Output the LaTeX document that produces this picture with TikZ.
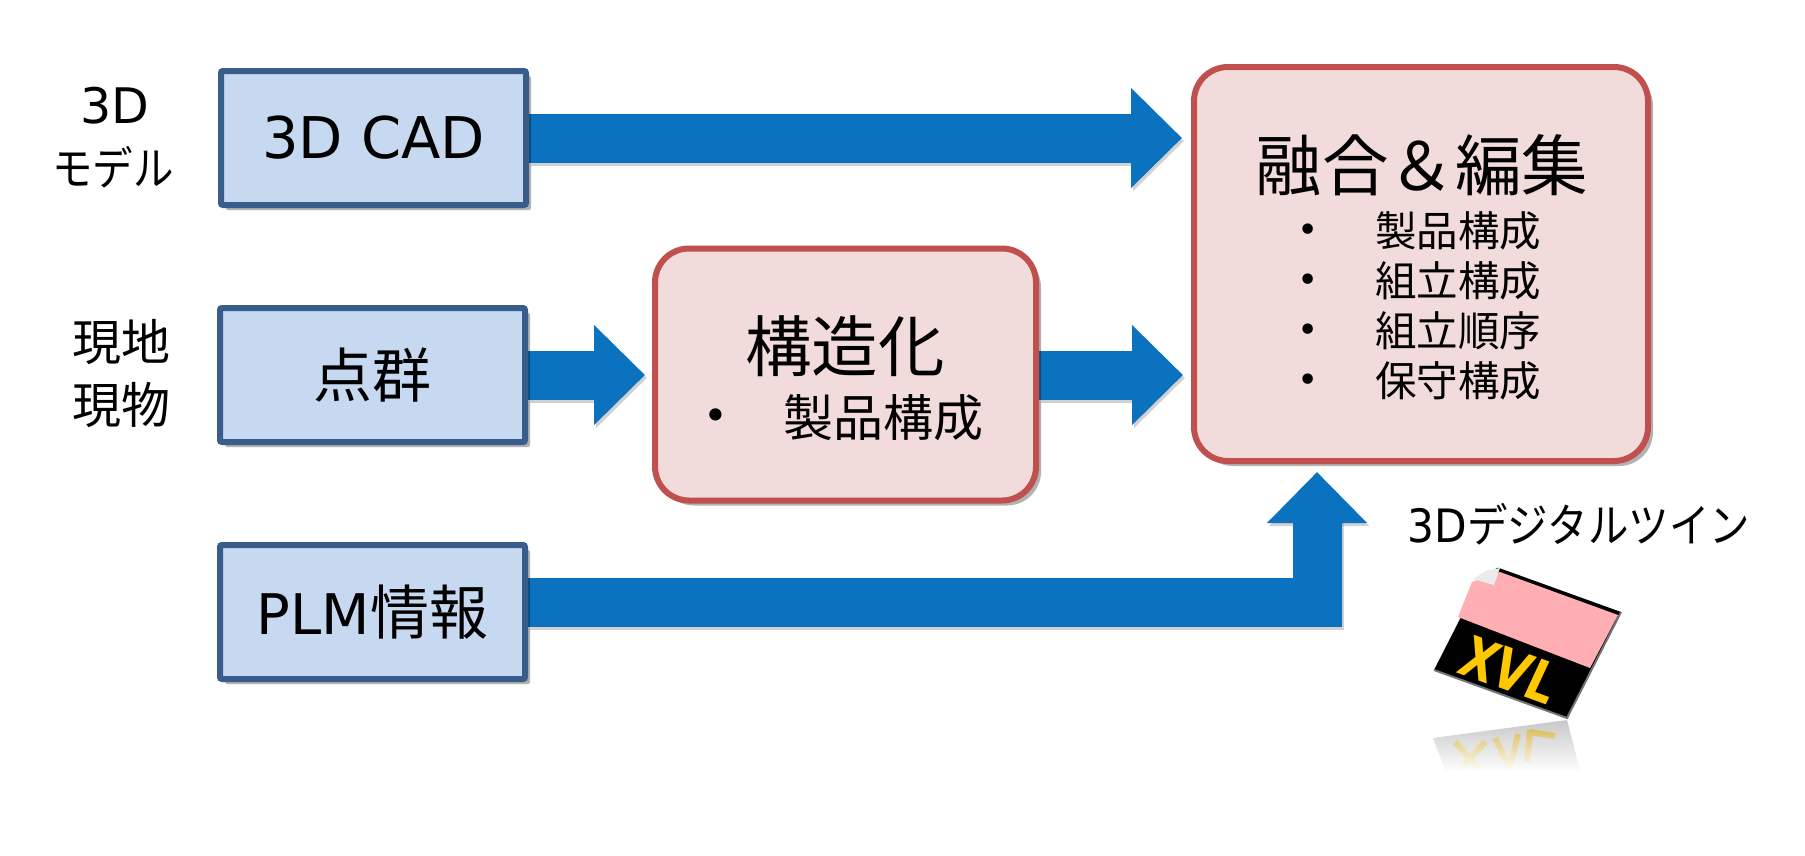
\documentclass[tikz,border=0pt]{standalone}
\usepackage{fontspec}
\setmainfont{DejaVu Sans}
\newfontfamily\cjk{Noto Sans CJK JP}
\newfontfamily\cjkn[FakeStretch=0.88]{Noto Sans CJK JP}
\newfontfamily\latn[FakeStretch=0.92]{DejaVu Sans}
\usetikzlibrary{shadows,arrows.meta,backgrounds,fadings}
\definecolor{boxfill}{HTML}{C6D9F1}
\definecolor{boxline}{HTML}{385D8A}
\definecolor{redfill}{HTML}{F2DCDB}
\definecolor{redline}{HTML}{C0504D}
\definecolor{flow}{HTML}{0A72BF}
\definecolor{iconpink}{HTML}{FFAEB4}
\definecolor{iconyellow}{HTML}{FFC800}
\newcommand{\fs}[1]{\fontsize{#1}{#1}\selectfont}
\tikzset{
  srcbox/.style={draw=boxline,fill=boxfill,line width=6pt,rounded corners=2pt,minimum width=305pt,minimum height=134pt,inner sep=0pt,
    drop shadow={shadow xshift=5pt,shadow yshift=-5pt,opacity=.3,fill=black}},
  procbox/.style={draw=redline,fill=redfill,line width=6pt,rounded corners=34pt,inner sep=0pt,
    drop shadow={shadow xshift=5pt,shadow yshift=-5pt,opacity=.3,fill=black}},
  txt/.style={inner sep=0pt,text=black},
  flowline/.style={draw=flow,line width=49pt,-{Triangle[length=51pt,width=97pt]}},
  flowshadow/.style={draw=black!45,opacity=.4,line width=49pt,-{Triangle[length=51pt,width=97pt]},transform canvas={shift={(2pt,-3pt)}}}
}
\begin{document}
\begin{tikzpicture}[x=1pt,y=1pt]
\useasboundingbox (0,0) rectangle (1805,-855);
% source boxes
\node[srcbox] (cad) at (373.5,-138) {\raisebox{-2.5pt}{\fs{57.5}3D CAD}};
\node[srcbox] (pts) at (372.5,-375) {\raisebox{-1pt}{\fs{59}\cjk 点群}};
\node[srcbox] (plm) at (372.5,-612) {\raisebox{-2.5pt}{\fs{56}PLM\fs{59}\cjk 情報}};
% process boxes
\node[procbox,minimum width=381pt,minimum height=252pt] (struct) at (845.5,-374.5) {};
\node[procbox,minimum width=454pt,minimum height=394pt] (merge) at (1421,-264) {};
% side labels
\node[txt] (l3d) at (115,-106) {\fs{49}3D};
\node[txt] (lmodel) at (113,-167) {\fs{46}\cjkn モデル};
\node[txt] (lsite1) at (121,-342) {\fs{49}\cjk 現地};
\node[txt] (lsite2) at (121,-405) {\fs{49}\cjk 現物};
% structure text
\node[txt] (stitle) at (845,-346) {\fs{66.5}\cjk 構造化};
\node[txt] (sdot) at (716,-420) {\fs{42}•};
\node[txt] (sitem) at (883,-418) {\fs{50}\cjk 製品構成};
% merge text
\node[txt] (mtitle) at (1422,-165) {\fs{66.5}\cjk 融合＆編集};
\node[txt] (md1) at (1308,-233) {\fs{36}•};
\node[txt] (md2) at (1308,-283) {\fs{36}•};
\node[txt] (md3) at (1308,-333) {\fs{36}•};
\node[txt] (md4) at (1308,-383) {\fs{36}•};
\node[txt] (mi1) at (1458,-231) {\fs{41.5}\cjk 製品構成};
\node[txt] (mi2) at (1458,-281) {\fs{41.5}\cjk 組立構成};
\node[txt] (mi3) at (1458,-331) {\fs{41.5}\cjk 組立順序};
\node[txt] (mi4) at (1458,-381) {\fs{41.5}\cjk 保守構成};
% twin label
\node[txt] (twin) at (1579,-524) {\fs{46}{\latn 3D}\cjkn デジタルツイン};
% connectors
\coordinate (uptip) at (1317,-472);
\begin{scope}[on background layer]
\fill[white] (0,0) rectangle (1805,-855);
\draw[flowshadow,shorten >=9pt] (cad.east) -- (cad.east -| merge.west);
\draw[flowshadow,shorten >=7pt] (pts.east) -- (pts.east -| struct.west);
\draw[flowshadow,shorten >=8pt] (struct.east |- pts.east) -- (pts.east -| merge.west);
\draw[flowshadow] ([yshift=10pt]plm.east) -| (uptip);
\draw[flowline,shorten >=9pt] (cad.east) -- (cad.east -| merge.west);
\draw[flowline,shorten >=7pt] (pts.east) -- (pts.east -| struct.west);
\draw[flowline,shorten >=8pt] (struct.east |- pts.east) -- (pts.east -| merge.west);
\draw[flowline] ([yshift=10pt]plm.east) -| (uptip);
\end{scope}
% XVL icon
\fill[black!22] (1433,-738) -- (1567,-720) -- (1580,-770) -- (1445,-770) -- cycle;
\draw[iconyellow!85!black,opacity=.7,line width=6pt] (1455,-742) -- (1480,-770) (1485,-742) -- (1460,-770)
  (1495,-738) -- (1510,-768) -- (1518,-734) (1530,-730) -- (1527,-762) (1530,-732) -- (1555,-736);
\fill[white,path fading=north] (1425,-719) rectangle (1600,-772);
\fill[white] (1425,-771) rectangle (1600,-800);
\fill[black] (1434,-670) -- (1488,-564) -- (1621,-612) -- (1567,-718) -- cycle;
\draw[black!55,line width=2pt] (1434,-670) -- (1567,-718) -- (1621,-612);
\fill[iconpink] (1458,-617) -- (1472,-582) -- (1500,-572) -- (1618,-615) -- (1590,-668) -- cycle;
\fill[white] (1470,-560) -- (1501,-560) -- (1499,-567) -- (1472,-581) -- cycle;
\fill[black!8] (1473,-579) -- (1486,-571) -- (1500,-568) -- (1494,-585) -- cycle;
\begin{scope}[shift={(1510,-670)},cm={.88,-.32,.5,1.08,(0,0)},transform shape]
\node[txt,text=iconyellow,font=\bfseries] (xvl) at (0,0) {\fs{48}XVL};
\end{scope}
\end{tikzpicture}
\end{document}
